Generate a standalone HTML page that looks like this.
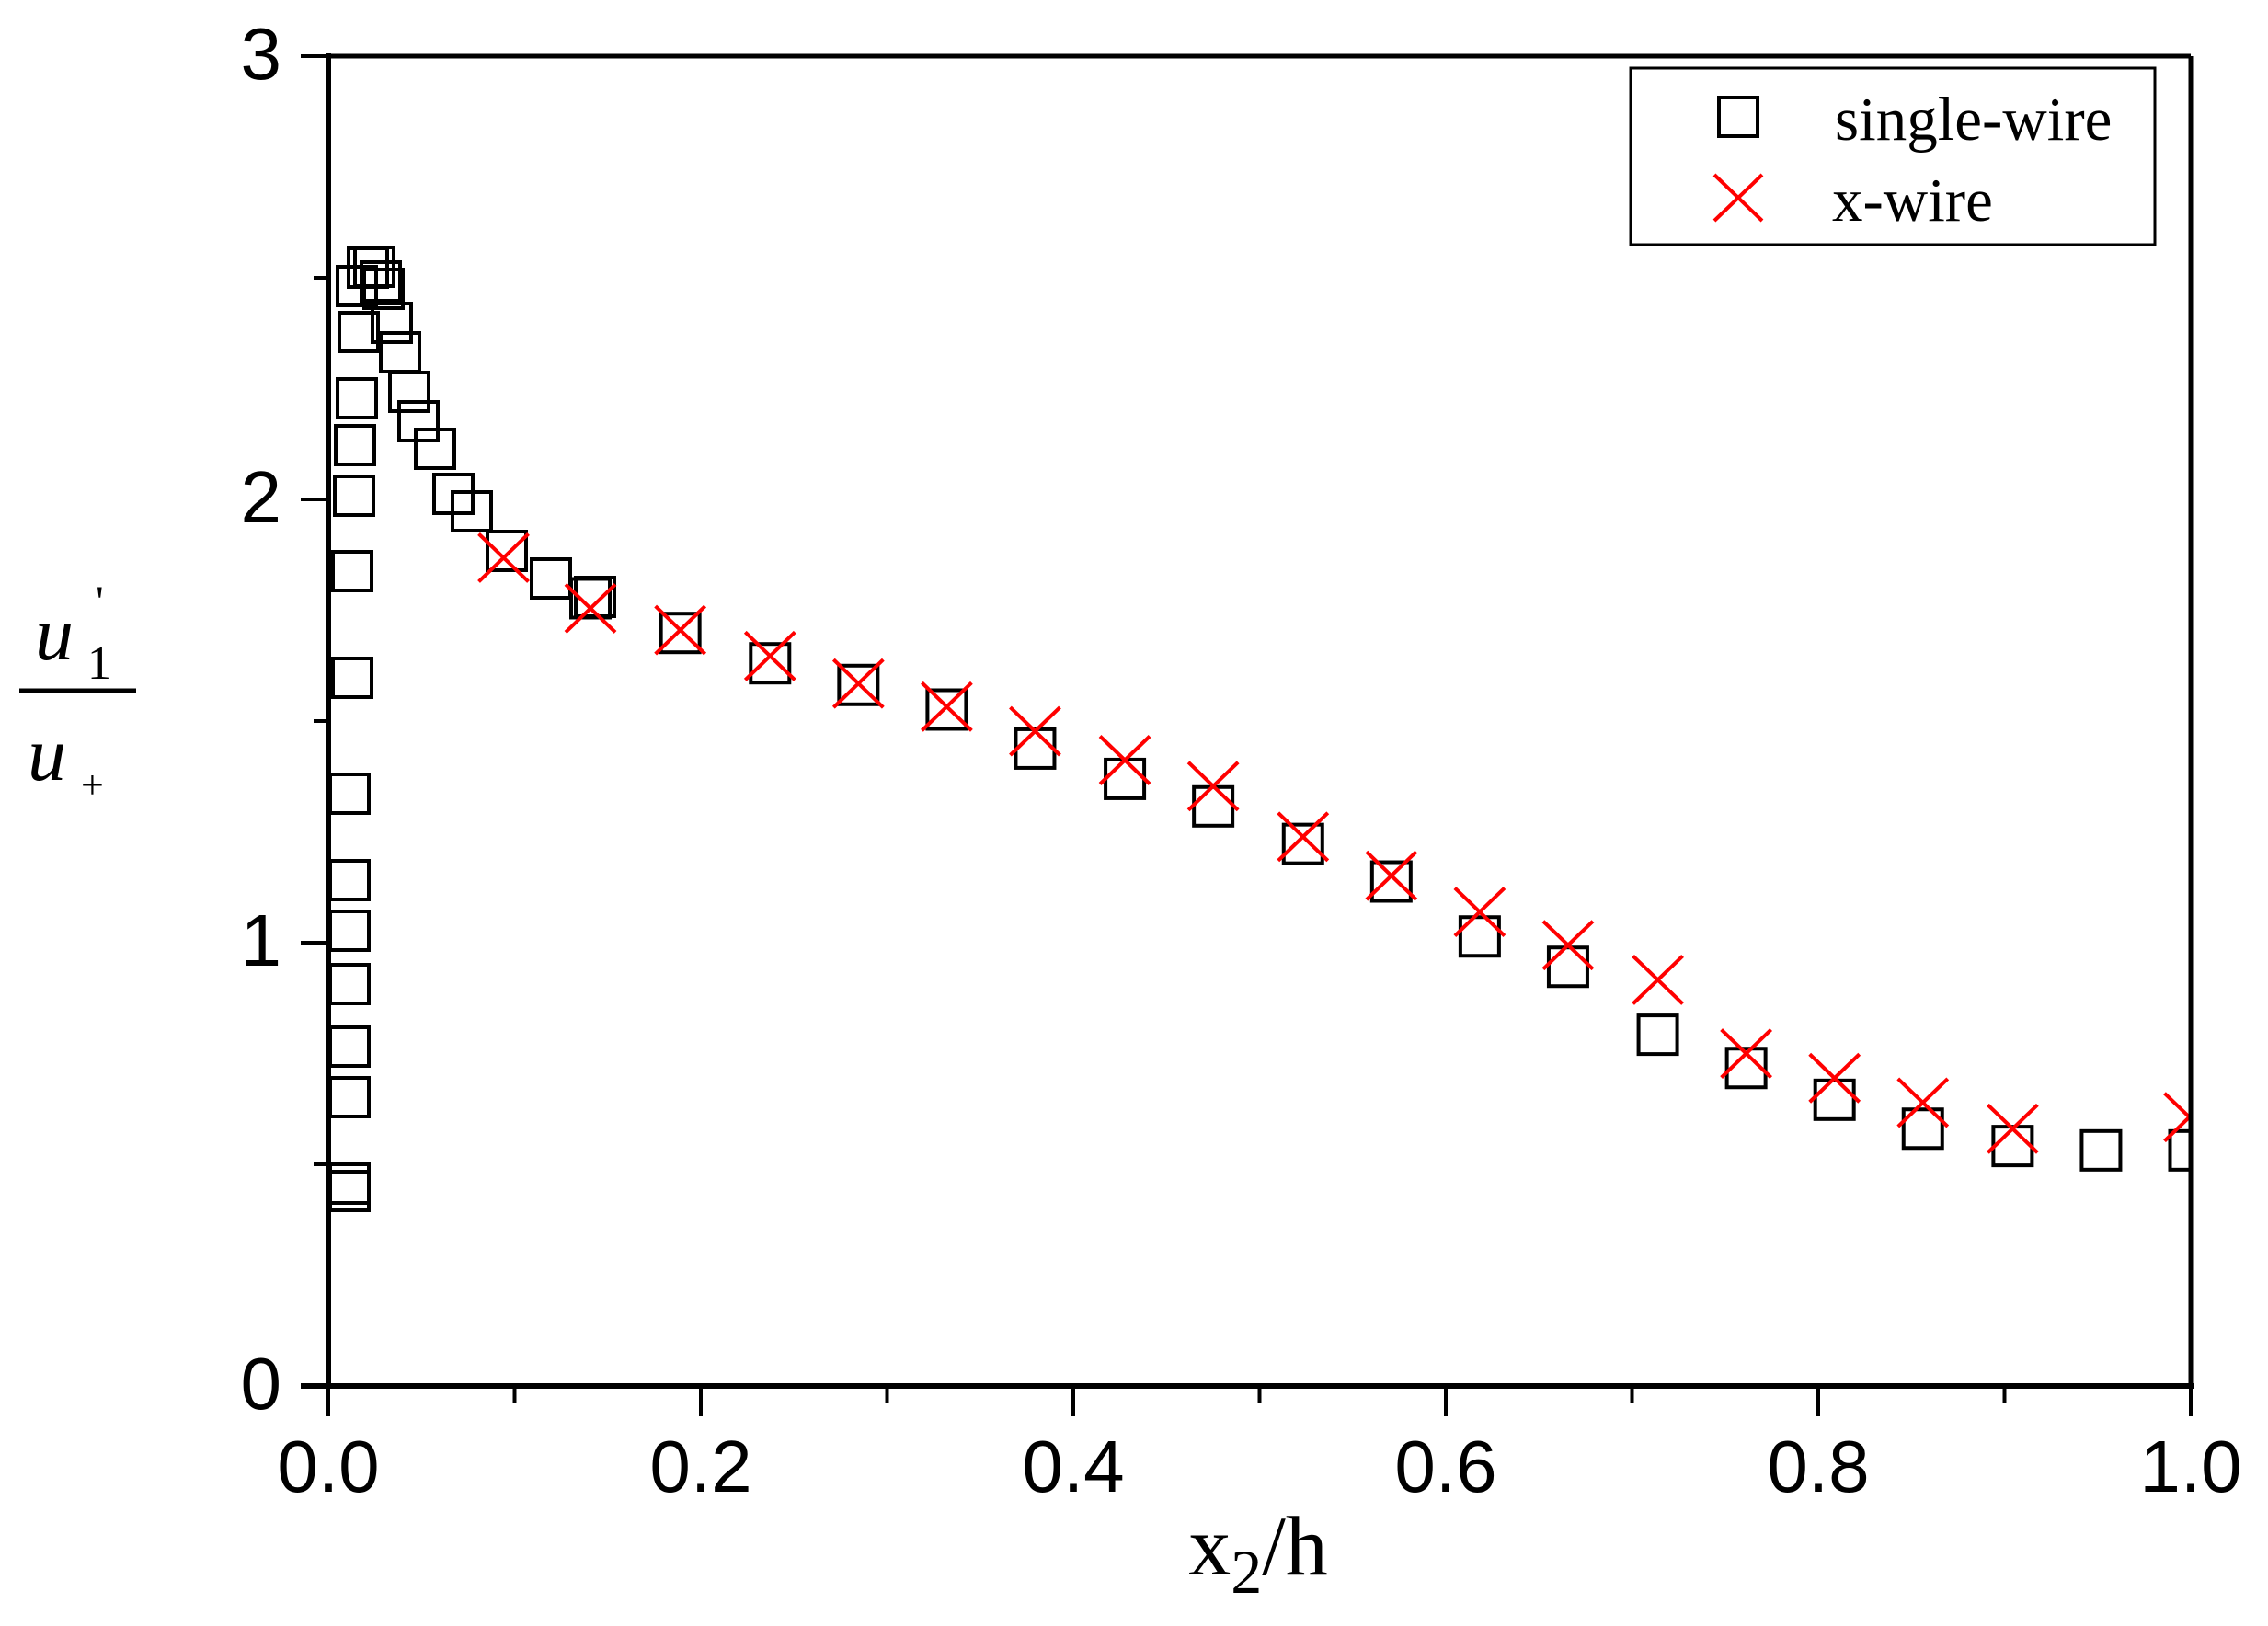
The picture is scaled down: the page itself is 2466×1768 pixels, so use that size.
<!DOCTYPE html>
<html><head><meta charset="utf-8"><style>
html,body{margin:0;padding:0;background:#fff;}
svg{display:block;}
</style></head><body>
<svg id="s" width="2466" height="1768" xmlns="http://www.w3.org/2000/svg">
<defs><clipPath id="c"><rect x="357" y="61" width="2025" height="1446"/></clipPath></defs>
<rect width="2466" height="1768" fill="#fff"/>
<g id="pts" clip-path="url(#c)"></g>
<g stroke="#000" fill="none">
<line x1="357" y1="61" x2="2382" y2="61" stroke-width="5"/>
<line x1="2382" y1="61" x2="2382" y2="1507" stroke-width="5"/>
<line x1="357" y1="58" x2="357" y2="1510" stroke-width="6"/>
<line x1="327" y1="1507" x2="2385" y2="1507" stroke-width="6"/>
</g>
<g id="ticks" stroke="#000" stroke-width="4"></g>
<g font-family="Liberation Sans, sans-serif" font-size="80" fill="#000" text-anchor="end">
<text x="306" y="86">3</text><text x="306" y="568">2</text><text x="306" y="1050">1</text><text x="306" y="1532">0</text>
</g>
<g id="xl" font-family="Liberation Sans, sans-serif" font-size="80" fill="#000" text-anchor="middle"></g>
<text x="1368" y="1712" font-family="Liberation Serif, serif" font-size="92" text-anchor="middle">x<tspan font-size="68" dy="20">2</tspan><tspan dy="-20">/h</tspan></text>
<g font-family="Liberation Serif, serif" fill="#000">
<text x="38" y="717" font-size="84" font-style="italic">u</text>
<text x="95" y="738" font-size="52">1</text>
<text x="104" y="670" font-size="48">'</text>
<line x1="21" y1="751" x2="148" y2="751" stroke="#000" stroke-width="5"/>
<text x="30" y="848" font-size="84" font-style="italic">u</text>
<text x="88" y="868" font-size="44">+</text>
</g>
<rect x="1773" y="74" width="570" height="192" fill="none" stroke="#000" stroke-width="3"/>
<rect x="1869" y="106" width="42" height="42" fill="none" stroke="#000" stroke-width="4"/>
<line x1="1864" y1="190" x2="1916" y2="240" stroke="#f00" stroke-width="4"/>
<line x1="1916" y1="190" x2="1864" y2="240" stroke="#f00" stroke-width="4"/>
<text x="1995" y="152" font-family="Liberation Serif, serif" font-size="67">single-wire</text>
<text x="1992" y="240" font-family="Liberation Serif, serif" font-size="67">x-wire</text>
</svg>
<script>
var NS="http://www.w3.org/2000/svg";
function el(p,t,a){var e=document.createElementNS(NS,t);for(var k in a)e.setAttribute(k,a[k]);p.appendChild(e);return e;}
var tk=document.getElementById('ticks');
for(var i=0;i<=6;i++){var y=1507-i*241;el(tk,'line',{x1:i%2?341:327,y1:y,x2:357,y2:y});}
var xl=document.getElementById('xl');
for(var i=0;i<=10;i++){var x=357+i*202.5;el(tk,'line',{x1:x,y1:1507,x2:x,y2:i%2?1526:1540});
 if(i%2==0){var t=el(xl,'text',{x:x,y:1622});t.textContent=(i/10).toFixed(1);}}
function mx(dx){return 357+(dx-229)*1.5747;}
function my(dy){return 1507-(958-dy)*1.5716;}
var g=document.getElementById('pts');
var realSq=[[380,1287],[380,1295],[380,1193],[380,1138],[380,1070],[380,1012],[380,957],[380,863],[383,737],[383,621],[385,539],[386,484],[388,433],[390,361],[388,311],[400,291],[407,290],[414,306],[417,314],[426,351],[435,383],[445,426],[455,458],[473,488],[493,537],[513,556],[551,599],[599,629],[647,649]];
var dispSq=[[410,413],[472,437],[534,458],[595,473],[656,490],[717,517],[779,538],[840,557],[902,583],[963,609],[1024,647],[1085,668],[1147,715],[1208,738],[1269,760],[1330,780],[1392,792],[1453,795],[1514,795]];
var sq=realSq.concat(dispSq.map(function(p){return [mx(p[0]),my(p[1])];}));
sq.forEach(function(p){el(g,'rect',{x:p[0]-21,y:p[1]-21,width:42,height:42,fill:'none',stroke:'#000','stroke-width':4});});
var cr=[[350,385],[410,420],[472,435],[534,453],[595,472],[656,488],[717,505],[779,525],[840,543],[902,578],[963,605],[1024,630],[1085,653],[1147,677],[1208,728],[1269,745],[1330,762],[1392,780],[1514,772]];
cr.forEach(function(q){var x=mx(q[0]),y=my(q[1]);
 el(g,'line',{x1:x-27,y1:y-26,x2:x+27,y2:y+26,stroke:'#f00','stroke-width':4});
 el(g,'line',{x1:x+27,y1:y-26,x2:x-27,y2:y+26,stroke:'#f00','stroke-width':4});});
</script>
</body></html>
